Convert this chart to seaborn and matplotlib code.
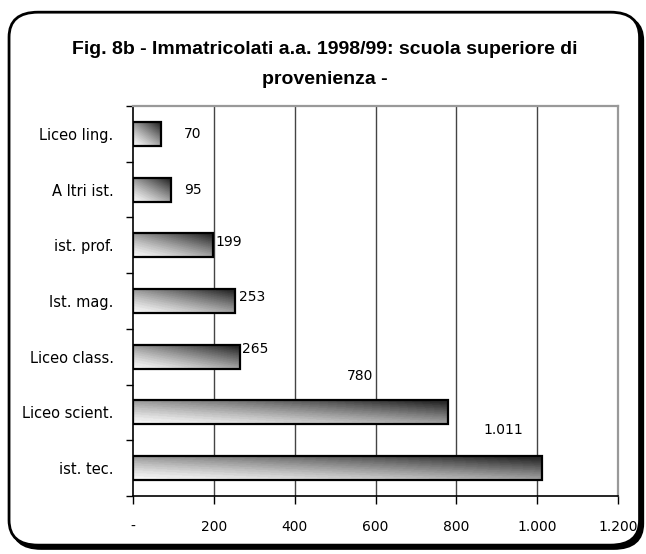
import numpy as np
import pandas as pd
import matplotlib
matplotlib.use("Agg")
import matplotlib.pyplot as plt
import seaborn as sns
from matplotlib.patches import FancyBboxPatch
from matplotlib.ticker import FixedLocator

categories = ["Liceo ling.", "A ltri ist.", "ist. prof.", "Ist. mag.", "Liceo class.", "Liceo scient.", "ist. tec."]
values = [70, 95, 199, 253, 265, 780, 1011]
value_labels = ["70", "95", "199", "253", "265", "780", "1.011"]
xtick_values = [0, 200, 400, 600, 800, 1000, 1200]
xtick_labels = ["-", "200", "400", "600", "800", "1.000", "1.200"]
title = "Fig. 8b - Immatricolati a.a. 1998/99: scuola superiore di\nprovenienza -"

sns.set_theme(style="white")
plt.rcParams['font.family'] = ['DejaVu Sans']
plt.rcParams['text.color'] = 'black'
plt.rcParams['xtick.color'] = 'black'
plt.rcParams['ytick.color'] = 'black'

fig = plt.figure(figsize=(6.46, 5.54), dpi=100)
ax = fig.add_axes([0.2059, 0.1047, 0.7508, 0.704])

df = pd.DataFrame({"cat": categories, "val": values})
sns.barplot(data=df, x="val", y="cat", orient="h", ax=ax, width=0.43,
            color="white", edgecolor="black", linewidth=1.6, saturation=1)

# gradient fill clipped to each bar: light bottom-left, dark top-right
grad_x = np.linspace(0, 1, 300)
grad_y = np.linspace(0, 1, 40)
GX, GY = np.meshgrid(grad_x, grad_y)
for p in ax.patches:
    x0, y0 = p.get_x(), p.get_y()
    w, h = p.get_width(), p.get_height()
    t = np.clip(0.5 * GX + 0.55 * (1 - GY), 0, 1)
    shade = 0.97 - 0.82 * t ** 1.3
    shade = np.round(shade * 24) / 24
    im = ax.imshow(shade, cmap="gray", vmin=0, vmax=1, aspect="auto",
                   extent=[x0, x0 + w, y0 + h, y0], origin="upper",
                   interpolation="bilinear", zorder=p.get_zorder())
    im.set_clip_path(p)
    p.set_zorder(p.get_zorder() + 0.1)
    p.set_facecolor("none")

ax.set_xlim(0, 1200)
ax.set_ylim(len(categories) - 0.5, -0.5)

# value labels (offsets relative to bar end, in data units)
offsets = [(56, 0.0), (31, 0.0), (5, -0.05), (10, -0.07), (5, -0.14), (-251, -0.66), (-145, -0.68)]
for i, (v, lab, (dx, dy)) in enumerate(zip(values, value_labels, offsets)):
    ax.text(v + dx, i + dy, lab, ha="left", va="center", fontsize=10, color="black")

# grid and spines
ax.set_xticks(xtick_values)
ax.set_xticklabels(xtick_labels)
for xv in xtick_values[1:-1]:
    ax.axvline(xv, color="#444444", lw=1.0, zorder=0)

ax.yaxis.set_major_locator(FixedLocator(np.arange(-0.5, len(categories), 1.0)))
ax.yaxis.set_minor_locator(FixedLocator(np.arange(len(categories))))
ax.set_yticklabels([], minor=False)
ax.set_yticklabels(categories, minor=True)
ax.tick_params(axis="y", which="major", left=True, length=5, width=1, color="black", direction="out")
ax.tick_params(axis="y", which="minor", left=False, length=0, pad=14, labelsize=10.5)
ax.tick_params(axis="x", which="major", bottom=True, length=6, width=1, color="black",
               direction="out", pad=11, labelsize=10)
ax.set_xlabel("")
ax.set_ylabel("")

ax.spines["left"].set_color("black")
ax.spines["bottom"].set_color("black")
ax.spines["left"].set_linewidth(1.2)
ax.spines["bottom"].set_linewidth(1.2)
ax.spines["top"].set_color("#999999")
ax.spines["right"].set_color("#999999")
ax.spines["top"].set_linewidth(1.6)
ax.spines["right"].set_linewidth(1.6)
for s in ax.spines.values():
    s.set_visible(True)

# title
fig.text(0.503, 0.883, title, ha="center", va="center", fontsize=14, fontweight="bold",
         color="black", family=["Liberation Sans Narrow", "Liberation Sans", "DejaVu Sans"],
         linespacing=2.0)

# rounded frame with shadow
shadow = FancyBboxPatch((0.019, 0.010), 0.976, 0.962, boxstyle="round,pad=0,rounding_size=0.045",
                        transform=fig.transFigure, facecolor="black", edgecolor="black", lw=2, zorder=-2)
frame = FancyBboxPatch((0.014, 0.016), 0.976, 0.962, boxstyle="round,pad=0,rounding_size=0.045",
                       transform=fig.transFigure, facecolor="white", edgecolor="black", lw=2, zorder=-1)
fig.patches.extend([shadow, frame])

fig.savefig("out.png", dpi=100)
